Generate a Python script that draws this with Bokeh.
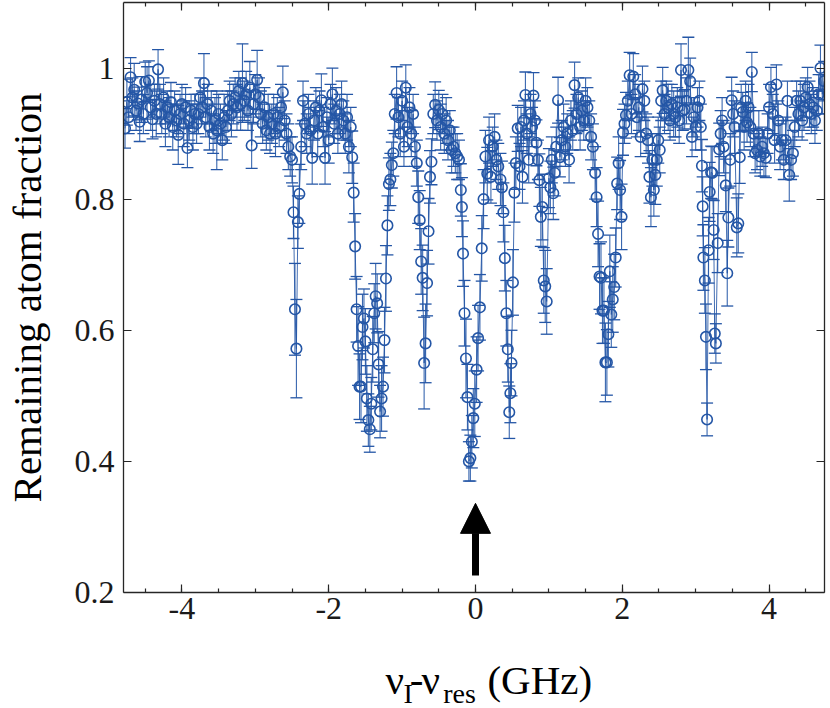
from bokeh.plotting import figure
from bokeh.layouts import column
from bokeh.models import (ColumnDataSource, Range1d, LinearAxis, FixedTicker, Whisker,
                          TeeHead, Arrow, NormalHead)
from bokeh.core.properties import value
from bokeh.embed import file_html
from bokeh.resources import INLINE

# ---------------- data ----------------
freq = [
    -4.775, -4.75, -4.725, -4.7, -4.675, -4.65, -4.625, -4.6, -4.575, -4.55, -4.525, -4.5, -4.475, -4.45, -4.425, -4.4, -4.375, -4.35, -4.325, -4.3,
    -4.275, -4.25, -4.225, -4.2, -4.175, -4.15, -4.125, -4.1, -4.075, -4.05, -4.025, -4.0, -3.975, -3.95, -3.925, -3.9, -3.875, -3.85, -3.825, -3.8,
    -3.775, -3.75, -3.725, -3.7, -3.675, -3.65, -3.625, -3.6, -3.575, -3.55, -3.525, -3.5, -3.475, -3.45, -3.425, -3.4, -3.375, -3.35, -3.325, -3.3,
    -3.275, -3.25, -3.225, -3.2, -3.175, -3.15, -3.125, -3.1, -3.075, -3.05, -3.025, -3.0, -2.975, -2.95, -2.925, -2.9, -2.875, -2.85, -2.825, -2.8,
    -2.775, -2.75, -2.725, -2.7, -2.675, -2.65, -2.625, -2.6, -2.575, -2.55, -2.525, -2.5, -2.48, -2.46, -2.44, -2.42, -2.4, -2.375, -2.35, -2.325, -2.3,
    -2.275, -2.25, -2.225, -2.2, -2.175, -2.15, -2.125, -2.1, -2.075, -2.05, -2.025, -2.0, -1.975, -1.95, -1.925, -1.9, -1.875, -1.85, -1.825, -1.8, -1.775, -1.75, -1.725, -1.7,
    -1.68, -1.66, -1.64, -1.62, -1.6, -1.58, -1.56, -1.54, -1.52, -1.5, -1.48, -1.46, -1.44, -1.42, -1.4, -1.38, -1.36, -1.34, -1.32, -1.3, -1.28, -1.26, -1.24, -1.22, -1.2, -1.18, -1.16, -1.14, -1.12,
    -1.1, -1.075, -1.05, -1.025, -1.0, -0.975, -0.95, -0.925, -0.9, -0.875, -0.85, -0.825,
    -0.8, -0.78, -0.76, -0.74, -0.72, -0.7, -0.68, -0.66, -0.64, -0.62, -0.6,
    -0.575, -0.55, -0.525, -0.5, -0.475, -0.45, -0.425, -0.4, -0.375, -0.35, -0.325, -0.3, -0.275, -0.25, -0.225,
    -0.2, -0.185, -0.17, -0.15, -0.13, -0.11, -0.09, -0.07, -0.05, -0.03, -0.01, 0.015, 0.035, 0.06, 0.085, 0.11, 0.135, 0.16,
    0.185, 0.21, 0.235, 0.26, 0.285, 0.31,
    0.34, 0.36, 0.38, 0.4, 0.42, 0.44, 0.46, 0.475, 0.49, 0.51, 0.53, 0.55, 0.575,
    0.6, 0.62, 0.64, 0.66, 0.68, 0.7, 0.725, 0.75, 0.77, 0.79, 0.81, 0.83, 0.85,
    0.87, 0.89, 0.91, 0.93, 0.95, 0.97, 1.0, 1.02, 1.04, 1.06,
    1.08, 1.1, 1.125, 1.15, 1.175, 1.2, 1.225, 1.25, 1.275, 1.3, 1.325, 1.35, 1.375, 1.4, 1.425, 1.45, 1.475, 1.5, 1.525, 1.55, 1.575,
    1.6, 1.63, 1.65, 1.67, 1.69, 1.71, 1.73, 1.75, 1.77, 1.79, 1.81, 1.83, 1.85, 1.87, 1.89, 1.91, 1.93, 1.95, 1.97, 1.99, 2.01,
    2.03, 2.05, 2.075, 2.1, 2.125, 2.15, 2.175, 2.2, 2.225, 2.25, 2.275, 2.3, 2.325, 2.35,
    2.37, 2.39, 2.41, 2.43, 2.45, 2.47, 2.49, 2.51,
    2.53, 2.55, 2.575, 2.6, 2.625, 2.65, 2.675, 2.7, 2.725, 2.75, 2.775, 2.8, 2.825, 2.85, 2.875, 2.9, 2.925, 2.95, 2.975, 3.0, 3.025, 3.05, 3.07,
    3.085, 3.095, 3.105, 3.125, 3.14, 3.155, 3.175, 3.19, 3.21, 3.225, 3.245, 3.26, 3.275, 3.3, 3.32, 3.34,
    3.36, 3.38, 3.41, 3.43, 3.445, 3.47, 3.49, 3.51, 3.53, 3.56, 3.58, 3.6, 3.62,
    3.64, 3.66, 3.68, 3.7, 3.72, 3.745, 3.765, 3.79, 3.81, 3.835, 3.86, 3.88, 3.905, 3.93, 3.955, 3.98, 4.0, 4.025, 4.05, 4.075,
    4.1, 4.125, 4.15, 4.175, 4.2, 4.225, 4.25, 4.275, 4.3, 4.325, 4.35, 4.375, 4.4, 4.425, 4.45, 4.475, 4.5, 4.525, 4.55, 4.575,
    4.6, 4.625, 4.65, 4.675, 4.7, 4.725, 4.75,
]

fraction = [
    0.908, 0.948, 0.925, 0.986, 0.955, 0.967, 0.935, 0.946, 0.918, 0.952, 0.93, 0.979, 0.962, 0.981, 0.94, 0.922, 0.95, 0.93, 0.998, 0.945,
    0.93, 0.955, 0.915, 0.94, 0.925, 0.948, 0.91, 0.935, 0.92, 0.898, 0.93, 0.945, 0.915, 0.94, 0.878, 0.92, 0.935, 0.91, 0.93, 0.915,
    0.93, 0.955, 0.94, 0.977, 0.925, 0.945, 0.91, 0.935, 0.9, 0.92, 0.905, 0.93, 0.915, 0.89, 0.925, 0.91, 0.935, 0.95, 0.93, 0.945,
    0.955, 0.94, 0.965, 0.945, 0.977, 0.95, 0.96, 0.935, 0.97, 0.882, 0.945, 0.96, 0.982, 0.955, 0.93, 0.915, 0.94, 0.905, 0.925, 0.9,
    0.915, 0.93, 0.9, 0.925, 0.91, 0.94, 0.963, 0.92, 0.9, 0.88, 0.865, 0.86, 0.78, 0.632, 0.572, 0.765, 0.808, 0.88, 0.95, 0.915, 0.9,
    0.93, 0.905, 0.863, 0.92, 0.94, 0.9, 0.935, 0.951, 0.91, 0.863, 0.925, 0.89, 0.945, 0.96, 0.915, 0.935, 0.9, 0.93, 0.945, 0.92, 0.9, 0.925, 0.88, 0.91,
    0.864, 0.81, 0.728, 0.632, 0.576, 0.514, 0.514, 0.605, 0.618, 0.583, 0.496, 0.463, 0.449, 0.488, 0.571, 0.626, 0.652, 0.641, 0.548, 0.476, 0.496, 0.514, 0.585, 0.679, 0.76, 0.823, 0.83, 0.852, 0.87,
    0.93, 0.962, 0.925, 0.9, 0.95, 0.88, 0.97, 0.91, 0.94, 0.9, 0.93, 0.88,
    0.855, 0.803, 0.768, 0.705, 0.68, 0.55, 0.58, 0.672, 0.751, 0.834, 0.857,
    0.93, 0.944, 0.92, 0.936, 0.91, 0.93, 0.9, 0.92, 0.89, 0.905, 0.875, 0.88, 0.87, 0.865, 0.86,
    0.814, 0.788, 0.717, 0.626, 0.557, 0.498, 0.4, 0.405, 0.43, 0.466, 0.488, 0.54, 0.588, 0.635, 0.725, 0.8, 0.865, 0.839,
    0.89, 0.834, 0.88, 0.895, 0.86, 0.85,
    0.83, 0.818, 0.78, 0.71, 0.626, 0.571, 0.475, 0.504, 0.55, 0.673, 0.81, 0.855, 0.908,
    0.85, 0.91, 0.834, 0.92, 0.959, 0.9, 0.86, 0.93, 0.91, 0.958, 0.92, 0.886, 0.86,
    0.829, 0.773, 0.788, 0.676, 0.667, 0.644, 0.832, 0.818, 0.86, 0.809,
    0.84, 0.88, 0.951, 0.864, 0.89, 0.91, 0.88, 0.9, 0.86, 0.92, 0.905, 0.974, 0.93, 0.955, 0.91, 0.935, 0.92, 0.95, 0.94, 0.92, 0.895,
    0.88, 0.84, 0.803, 0.747, 0.682, 0.68, 0.63, 0.63, 0.551, 0.551, 0.594, 0.69, 0.624, 0.647, 0.666, 0.711, 0.824, 0.855, 0.814, 0.773, 0.902,
    0.915, 0.928, 0.95, 0.989, 0.93, 0.987, 0.96, 0.925, 0.94, 0.895, 0.968, 0.95, 0.9, 0.89,
    0.834, 0.803, 0.86, 0.814, 0.837, 0.86, 0.89, 0.875,
    0.95, 0.966, 0.93, 0.95, 0.94, 0.92, 0.945, 0.93, 0.925, 0.94, 0.92, 0.997, 0.935, 0.937, 0.95, 0.997, 0.98, 0.895, 0.925, 0.91, 0.94, 0.95, 0.91,
    0.851, 0.789, 0.711, 0.676, 0.59, 0.464, 0.722, 0.811, 0.841, 0.84, 0.753, 0.595, 0.58, 0.733, 0.876, 0.9,
    0.92, 0.88, 0.821, 0.687, 0.772, 0.86, 0.951, 0.93, 0.91, 0.757, 0.763, 0.864, 0.94,
    0.933, 0.91, 0.95, 0.917, 0.94, 0.91, 0.994, 0.9, 0.87, 0.875, 0.9, 0.865, 0.88, 0.87, 0.863, 0.9, 0.94, 0.971, 0.93, 0.89,
    0.975, 0.92, 0.88, 0.89, 0.86, 0.89, 0.95, 0.837, 0.86, 0.87, 0.91, 0.95, 0.93, 0.95, 0.92, 0.94, 0.955, 0.971, 0.945, 0.93,
    0.94, 0.92, 0.935, 0.96, 1.0, 0.96, 0.98,
]

error = [
    0.03, 0.035, 0.025, 0.03, 0.03, 0.04, 0.03, 0.025, 0.03, 0.035, 0.03, 0.03, 0.04, 0.03, 0.035, 0.03, 0.025, 0.035, 0.03, 0.03,
    0.03, 0.03, 0.035, 0.025, 0.03, 0.03, 0.035, 0.03, 0.025, 0.045, 0.03, 0.03, 0.035, 0.03, 0.03, 0.03, 0.025, 0.035, 0.03, 0.03,
    0.03, 0.03, 0.025, 0.045, 0.03, 0.03, 0.035, 0.03, 0.03, 0.035, 0.06, 0.03, 0.03, 0.03, 0.035, 0.025, 0.03, 0.03, 0.035, 0.03,
    0.03, 0.035, 0.03, 0.04, 0.06, 0.03, 0.035, 0.03, 0.04, 0.035, 0.03, 0.03, 0.045, 0.03, 0.035, 0.03, 0.03, 0.03, 0.035, 0.03,
    0.03, 0.03, 0.035, 0.03, 0.03, 0.035, 0.04, 0.03, 0.03, 0.035, 0.03, 0.035, 0.04, 0.07, 0.075, 0.04, 0.045, 0.035, 0.03, 0.035, 0.03,
    0.03, 0.035, 0.04, 0.03, 0.03, 0.035, 0.03, 0.04, 0.03, 0.04, 0.03, 0.035, 0.03, 0.04, 0.03, 0.035, 0.03, 0.03, 0.035, 0.03, 0.03, 0.035, 0.04, 0.03,
    0.04, 0.045, 0.05, 0.05, 0.06, 0.05, 0.055, 0.05, 0.045, 0.05, 0.05, 0.04, 0.035, 0.04, 0.05, 0.045, 0.05, 0.045, 0.05, 0.04, 0.05, 0.045, 0.05, 0.05, 0.045, 0.04, 0.04, 0.035, 0.035,
    0.03, 0.04, 0.03, 0.035, 0.03, 0.03, 0.035, 0.03, 0.03, 0.035, 0.03, 0.03,
    0.035, 0.04, 0.045, 0.05, 0.05, 0.07, 0.06, 0.05, 0.05, 0.04, 0.035,
    0.03, 0.035, 0.03, 0.03, 0.035, 0.03, 0.03, 0.035, 0.03, 0.03, 0.035, 0.03, 0.03, 0.035, 0.03,
    0.04, 0.045, 0.05, 0.05, 0.06, 0.05, 0.03, 0.035, 0.04, 0.045, 0.05, 0.05, 0.05, 0.05, 0.05, 0.045, 0.04, 0.04,
    0.035, 0.04, 0.03, 0.035, 0.03, 0.035,
    0.04, 0.04, 0.045, 0.05, 0.05, 0.05, 0.04, 0.045, 0.05, 0.05, 0.045, 0.04, 0.035,
    0.035, 0.03, 0.04, 0.03, 0.035, 0.03, 0.035, 0.03, 0.03, 0.035, 0.03, 0.035, 0.03,
    0.04, 0.045, 0.05, 0.05, 0.055, 0.05, 0.045, 0.04, 0.035, 0.04,
    0.035, 0.03, 0.035, 0.03, 0.03, 0.035, 0.03, 0.03, 0.035, 0.03, 0.03, 0.035, 0.03, 0.03, 0.035, 0.03, 0.03, 0.035, 0.03, 0.03, 0.035,
    0.035, 0.04, 0.045, 0.05, 0.05, 0.055, 0.05, 0.05, 0.06, 0.05, 0.05, 0.055, 0.05, 0.05, 0.05, 0.045, 0.04, 0.04, 0.045, 0.05, 0.035,
    0.03, 0.035, 0.03, 0.035, 0.03, 0.035, 0.03, 0.03, 0.035, 0.03, 0.035, 0.03, 0.03, 0.035,
    0.04, 0.045, 0.04, 0.04, 0.045, 0.04, 0.035, 0.035,
    0.03, 0.035, 0.03, 0.03, 0.035, 0.03, 0.03, 0.035, 0.03, 0.03, 0.035, 0.04, 0.03, 0.03, 0.035, 0.05, 0.035, 0.03, 0.03, 0.035, 0.03, 0.03, 0.035,
    0.04, 0.045, 0.05, 0.05, 0.05, 0.025, 0.05, 0.045, 0.04, 0.04, 0.045, 0.03, 0.03, 0.045, 0.04, 0.035,
    0.035, 0.04, 0.04, 0.05, 0.045, 0.04, 0.035, 0.035, 0.04, 0.045, 0.045, 0.04, 0.035,
    0.03, 0.035, 0.03, 0.03, 0.035, 0.03, 0.03, 0.035, 0.03, 0.03, 0.035, 0.03, 0.03, 0.035, 0.03, 0.03, 0.035, 0.03, 0.03, 0.035,
    0.03, 0.03, 0.035, 0.03, 0.03, 0.035, 0.03, 0.04, 0.03, 0.035, 0.03, 0.03, 0.035, 0.03, 0.03, 0.035, 0.03, 0.03, 0.035, 0.03,
    0.03, 0.035, 0.03, 0.03, 0.035, 0.03, 0.03,
]

x_major_ticks = [-4, -2, 0, 2, 4]
x_minor_ticks = [-4.5, -4, -3.5, -3, -2.5, -2, -1.5, -1, -0.5, 0, 0.5, 1, 1.5, 2, 2.5, 3, 3.5, 4, 4.5]
y_major_ticks = [0.2, 0.4, 0.6, 0.8, 1.0]
x_tick_labels = {-4: "-4", -2: "-2", 0: "0", 2: "2", 4: "4"}
y_tick_labels = {0.2: "0.2", 0.4: "0.4", 0.6: "0.6", 0.8: "0.8", 1.0: "1"}
resonance = 0.0  # arrow position (GHz)

# x-axis title pieces: nu_I - nu_res (GHz)
xlabel_main = ["ν", "-", "ν", "(GHz)"]
xlabel_sub = ["I", "res"]

if not (len(freq) == len(fraction) == len(error)):
    raise ValueError(f"length mismatch {len(freq)} {len(fraction)} {len(error)}")

# ---------------- figure ----------------
BLUE = "#2456A6"
AX = "#262626"
FONT = "Liberation Serif"
W = 830
H_MAIN = 640
H_STRIP = 68

src = ColumnDataSource(dict(
    x=freq, y=fraction,
    upper=[f + e for f, e in zip(fraction, error)],
    lower=[f - e for f, e in zip(fraction, error)],
))

xr = Range1d(-4.796, 4.755)
p = figure(width=W, height=H_MAIN, title=None,
           x_range=xr, y_range=Range1d(0.2, 1.1),
           output_backend="svg", toolbar_location=None,
           min_border_left=123, min_border_right=6, min_border_top=2, min_border_bottom=48,
           x_axis_location=None, y_axis_location=None)
p.xgrid.visible = False
p.ygrid.visible = False
p.outline_line_color = None

xt = FixedTicker(ticks=x_major_ticks, minor_ticks=x_minor_ticks)
yt = FixedTicker(ticks=y_major_ticks, minor_ticks=[])


def style(ax, labels):
    ax.axis_line_color = AX
    ax.axis_line_width = 1.3
    ax.major_tick_line_color = AX
    ax.minor_tick_line_color = AX
    ax.major_tick_line_width = 1.2
    ax.minor_tick_line_width = 1.2
    ax.major_tick_in = 8
    ax.major_tick_out = 0
    ax.minor_tick_in = 4
    ax.minor_tick_out = 0
    ax.major_label_text_font = FONT
    if labels:
        ax.major_label_text_color = "#1a1a1a"
        ax.major_label_text_font_size = "32px"
    else:
        ax.major_label_text_color = None
        ax.major_label_text_font_size = "1px"
        ax.major_label_standoff = 0


xb = LinearAxis(ticker=xt, major_label_overrides=x_tick_labels)
style(xb, True)
xb.major_label_standoff = 5
p.add_layout(xb, "below")

xa = LinearAxis(ticker=xt)
style(xa, False)
p.add_layout(xa, "above")

yl = LinearAxis(ticker=yt, major_label_overrides=y_tick_labels,
                axis_label="Remaining atom fraction")
style(yl, True)
yl.major_label_standoff = 9
yl.axis_label_text_font = FONT
yl.axis_label_text_font_size = "41px"
yl.axis_label_text_font_style = "normal"
yl.axis_label_text_color = "#000000"
yl.axis_label_standoff = 22
p.add_layout(yl, "left")

yr = LinearAxis(ticker=yt)
style(yr, False)
p.add_layout(yr, "right")

# error bars
p.add_layout(Whisker(source=src, base="x", upper="upper", lower="lower",
                     line_color=BLUE, line_width=1.1, line_alpha=0.9,
                     upper_head=TeeHead(size=12, line_color=BLUE, line_width=1.3),
                     lower_head=TeeHead(size=12, line_color=BLUE, line_width=1.3)))
# connecting line
p.line("x", "y", source=src, line_color=BLUE, line_width=1.0, line_alpha=0.85)
# markers
p.scatter("x", "y", source=src, marker="circle", size=10.5, fill_color=None,
          line_color=BLUE, line_width=1.6)

# arrow at resonance
p.add_layout(Arrow(end=NormalHead(size=30, fill_color="black", line_color="black", line_width=1),
                   x_start=resonance, y_start=0.226, x_end=resonance, y_end=0.336,
                   line_width=7, line_color="black"))

# ---------------- x-axis title strip (shares x range, 1 unit = 1 px) ----------------
q = figure(width=W, height=H_STRIP, title=None, x_range=xr, y_range=Range1d(0, H_STRIP),
           output_backend="svg", toolbar_location=None,
           min_border_left=123, min_border_right=6, min_border_top=0, min_border_bottom=0,
           x_axis_location=None, y_axis_location=None)
q.xgrid.visible = False
q.ygrid.visible = False
q.outline_line_color = None
q.text(x=[-1.226, -0.895, -0.735, 0.163], y=[29, 29, 29, 29], text=xlabel_main,
       text_font=value(FONT), text_font_size="41px", text_color="#000000",
       text_baseline="alphabetic", text_align="left")
q.text(x=[-0.981, -0.440], y=[15, 15], text=xlabel_sub,
       text_font=value(FONT), text_font_size="28px", text_color="#000000",
       text_baseline="alphabetic", text_align="left")

layout = column(p, q, spacing=0)
open("out.html", "w").write(file_html(layout, INLINE))
